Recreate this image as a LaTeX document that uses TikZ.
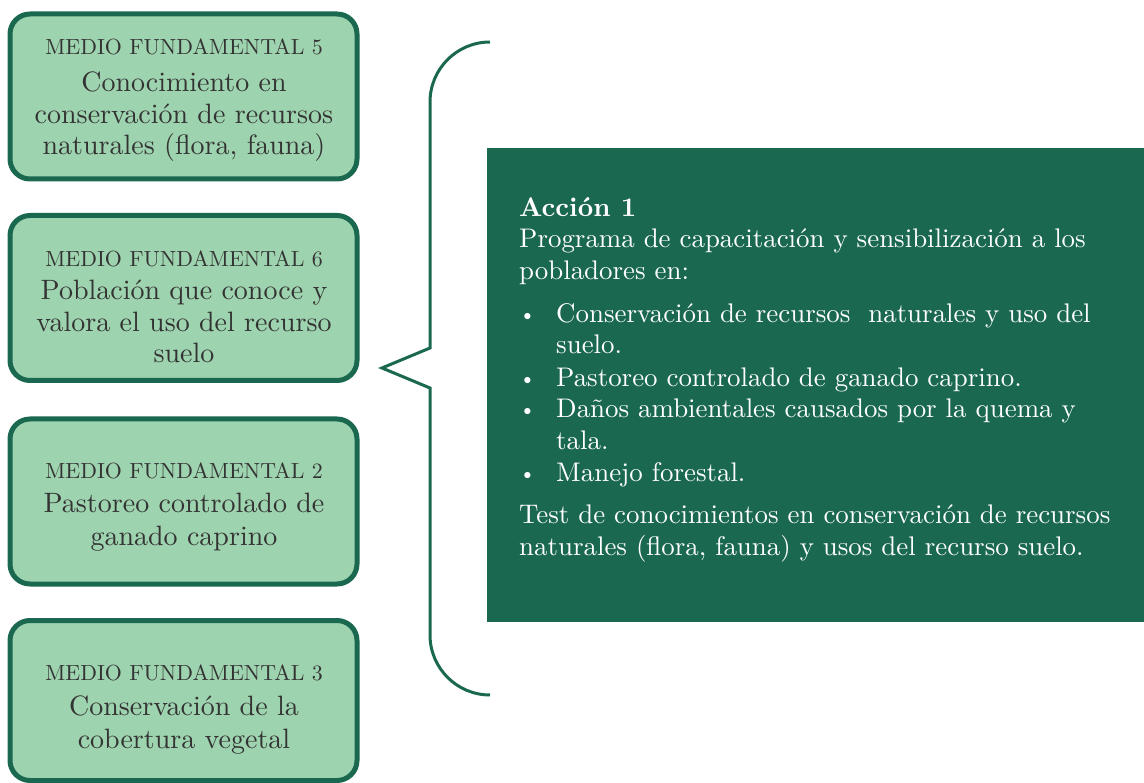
\documentclass[tikz,border=0pt]{standalone}
\usepackage{fontspec}
\setmainfont{lmroman10-regular.otf}[BoldFont=lmroman10-bold.otf]
\definecolor{dkgreen}{RGB}{26,104,80}
\definecolor{ltgreen}{RGB}{158,211,175}
\definecolor{txtgray}{RGB}{51,51,51}
\tikzset{
  medio/.style={draw=dkgreen, line width=5pt, fill=ltgreen, rounded corners=20pt,
    minimum width=347pt, minimum height=165pt, inner sep=0pt},
  ltxt/.style={anchor=base, text=txtgray, inner sep=0pt, font=\fontsize{28}{32}\selectfont},
  lcap/.style={anchor=base, text=txtgray, inner sep=0pt, font=\fontsize{21.9}{26}\selectfont},
  wtxt/.style={anchor=base west, text=white, inner sep=0pt, font=\fontsize{26.9}{32}\selectfont},
  bigbox/.style={fill=dkgreen, draw=none, inner sep=0pt, minimum width=663pt, minimum height=474pt},
  bracket/.style={draw=dkgreen, line width=3pt, line join=miter},
}
\newcommand{\bul}{\makebox[37pt][l]{\raisebox{1pt}{\scalebox{0.8}{\textbullet}}}}
\begin{document}
\begin{tikzpicture}[x=1pt,y=-1pt]
\useasboundingbox (0,0) rectangle (1144,783);
\begin{scope}
\clip (0,0) rectangle (1144,783);
% left boxes
\node[medio] (m5) at (183.5,96.5) {};
\node[medio] (m6) at (183.5,298) {};
\node[medio] (m2) at (183.5,501.5) {};
\node[medio, minimum height=160pt] (m3) at (183.5,700.5) {};
% big box
\node[bigbox] (acc) at (818.5,385) {};
\end{scope}
% texts box 5
\node[lcap] (t5a) at (184,55) {MEDIO FUNDAMENTAL 5};
\node[ltxt] (t5b) at (184,92) {Conocimiento en};
\node[ltxt] (t5c) at (184,124) {conservación de recursos};
\node[ltxt] (t5d) at (184,155) {naturales (flora, fauna)};
% box 6
\node[lcap] (t6a) at (184,267) {MEDIO FUNDAMENTAL 6};
\node[ltxt] (t6b) at (184,300) {Población que conoce y};
\node[ltxt] (t6c) at (184,332) {valora el uso del recurso};
\node[ltxt] (t6d) at (184,363) {suelo};
% box 2
\node[lcap] (t2a) at (184,479) {MEDIO FUNDAMENTAL 2};
\node[ltxt] (t2b) at (184,513) {Pastoreo controlado de};
\node[ltxt] (t2c) at (184,545) {ganado caprino};
% box 3
\node[lcap] (t3a) at (184,680) {MEDIO FUNDAMENTAL 3};
\node[ltxt] (t3b) at (184,715) {Conservación de la};
\node[ltxt] (t3c) at (184,748) {cobertura vegetal};
% bracket
\draw[bracket] (490,42) arc[start angle=270, end angle=180, radius=60]
  -- (430,348) -- (382,368) -- (430,388) -- (430,635)
  arc[start angle=180, end angle=90, radius=60];
% action text
\node[wtxt] (a1) at (519,217) {\textbf{Acción 1}};
\node[wtxt] (a2) at (519,248) {Programa de capacitación y sensibilización a los};
\node[wtxt] (a3) at (519,280) {pobladores en:};
\node[wtxt] (a4) at (519,323) {\bul Conservación de recursos\ \ naturales y uso del};
\node[wtxt] (a5) at (556,354) {suelo.};
\node[wtxt] (a6) at (519,387) {\bul Pastoreo controlado de ganado caprino.};
\node[wtxt] (a7) at (519,418) {\bul Daños ambientales causados por la quema y};
\node[wtxt] (a8) at (556,450) {tala.};
\node[wtxt] (a9) at (519,482) {\bul Manejo forestal.};
\node[wtxt] (a10) at (519,523) {Test de conocimientos en conservación de recursos};
\node[wtxt] (a11) at (519,555) {naturales (flora, fauna) y usos del recurso suelo.};
\end{tikzpicture}
\end{document}
